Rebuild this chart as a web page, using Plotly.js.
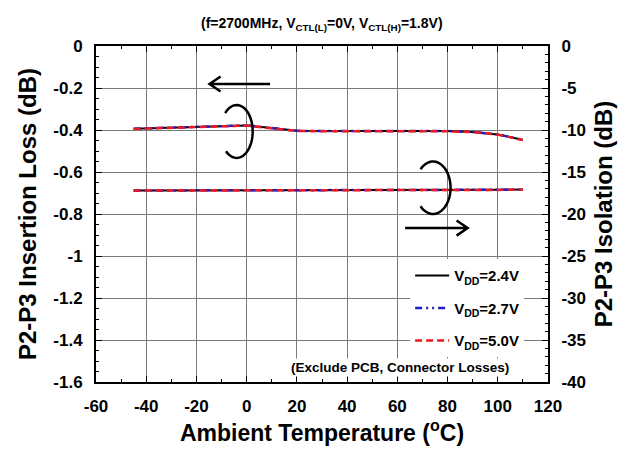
<!DOCTYPE html>
<html><head><meta charset="utf-8">
<script src="https://cdn.plot.ly/plotly-3.0.1.min.js"></script>
<style>html,body{margin:0;padding:0;background:#fff}</style>
</head><body><div id="chart" style="width:642px;height:452px"></div>
<script>
// ---- data ----
const temperature = [-45, -30, -20, -10, 0, 10, 20, 40, 60, 80, 90, 100, 110];
const insertionLoss_24 = [-0.394, -0.389, -0.384, -0.380, -0.378, -0.391, -0.404, -0.405, -0.405, -0.405, -0.409, -0.421, -0.447];
const insertionLoss_27 = [-0.394, -0.389, -0.384, -0.380, -0.378, -0.391, -0.404, -0.405, -0.405, -0.405, -0.409, -0.421, -0.447];
const insertionLoss_50 = [-0.395, -0.390, -0.384, -0.381, -0.379, -0.392, -0.405, -0.406, -0.406, -0.406, -0.410, -0.422, -0.448];
const isolation_24 = [-17.2, -17.2, -17.2, -17.2, -17.2, -17.2, -17.2, -17.2, -17.2, -17.19, -17.16, -17.12, -17.07];
const isolation_27 = [-17.2, -17.2, -17.2, -17.2, -17.2, -17.2, -17.2, -17.2, -17.2, -17.19, -17.16, -17.12, -17.07];
const isolation_50 = [-17.21, -17.21, -17.21, -17.21, -17.21, -17.21, -17.21, -17.21, -17.21, -17.2, -17.17, -17.13, -17.08];
const seriesNames = ['V<sub>DD</sub>=2.4V', 'V<sub>DD</sub>=2.7V', 'V<sub>DD</sub>=5.0V'];
const xTickVals = [-60, -40, -20, 0, 20, 40, 60, 80, 100, 120];
const xTickText = ['-60', '-40', '-20', '0', '20', '40', '60', '80', '100', '120'];
const ilTickVals = [0, -0.2, -0.4, -0.6, -0.8, -1, -1.2, -1.4, -1.6];
const ilTickText = ['0', '-0.2', '-0.4', '-0.6', '-0.8', '-1', '-1.2', '-1.4', '-1.6'];
const isoTickVals = [0, -5, -10, -15, -20, -25, -30, -35, -40];
const isoTickText = ['0', '-5', '-10', '-15', '-20', '-25', '-30', '-35', '-40'];

// ---- styles ----
const FONT = 'Liberation Sans, Arial, sans-serif';
const styles = [
  {color: '#000000', width: 2, dash: 'solid'},
  {color: 'rgb(30,30,200)', width: 2.5, dash: '7px,4px,2px,4px,2px,4px'},
  {color: 'rgb(235,25,35)', width: 2.5, dash: '7px,4px'}
];
const ilData = [insertionLoss_24, insertionLoss_27, insertionLoss_50];
const isoData = [isolation_24, isolation_27, isolation_50];

const traces = [];
for (let i = 0; i < 3; i++) {
  traces.push({x: temperature, y: ilData[i], type: 'scatter', mode: 'lines', name: seriesNames[i],
    line: styles[i], legendgroup: 'g' + i, xaxis: 'x', yaxis: 'y', hoverinfo: 'skip'});
}
for (let i = 0; i < 3; i++) {
  traces.push({x: temperature, y: isoData[i], type: 'scatter', mode: 'lines', name: seriesNames[i],
    line: styles[i], legendgroup: 'g' + i, showlegend: false, xaxis: 'x', yaxis: 'y2', hoverinfo: 'skip'});
}

// decorative curl (ellipse arc) and arrow shapes
function arcPath(cx, cy, rx, ry, a0, a1) {
  const n = 40; let p = '';
  for (let k = 0; k <= n; k++) {
    const a = (a0 + (a1 - a0) * k / n) * Math.PI / 180;
    const x = cx + rx * Math.cos(a), y = cy + ry * Math.sin(a);
    p += (k === 0 ? 'M' : 'L') + x.toFixed(4) + ',' + y.toFixed(5);
  }
  return p;
}
function arrowPath(xTail, xHead, y, headLen, headHalf) {
  const dir = xHead > xTail ? 1 : -1;
  const bx = xHead - dir * headLen;
  return 'M' + xTail + ',' + y + 'L' + xHead + ',' + y +
         'M' + bx + ',' + (y + headHalf) + 'L' + xHead + ',' + y + 'L' + bx + ',' + (y - headHalf);
}

const axisCommon = {
  showline: true, linecolor: '#000', linewidth: 2, ticks: 'inside', ticklen: 6, tickcolor: '#000', tickwidth: 1,
  zeroline: false, tickfont: {family: FONT, size: 17, color: '#000', weight: 'bold'}, tickmode: 'array'
};

const layout = {
  width: 642, height: 452,
  margin: {l: 96, r: 94, t: 46, b: 70},
  paper_bgcolor: '#fff', plot_bgcolor: '#fff',
  font: {family: FONT, color: '#000'},
  showlegend: true,
  legend: {x: 0.695, y: 0.365, xanchor: 'left', yanchor: 'top', bgcolor: '#fff', borderwidth: 0,
    font: {family: FONT, size: 15, color: '#000', weight: 'bold'}, tracegroupgap: 10, itemwidth: 34},
  xaxis: Object.assign({}, axisCommon, {
    range: [-60, 120], tickvals: xTickVals, ticktext: xTickText, mirror: 'ticks',
    showgrid: true, gridcolor: '#7a7a7a', gridwidth: 1, ticklabelstandoff: 8,
    minor: {dtick: 10, tick0: -60, ticks: 'inside', ticklen: 3, tickcolor: '#000', showgrid: false},
    title: {text: 'Ambient Temperature (<sup>o</sup>C)', font: {family: FONT, size: 23, color: '#000', weight: 'bold'}, standoff: 7}
  }),
  yaxis: Object.assign({}, axisCommon, {
    range: [-1.6, 0], tickvals: ilTickVals, ticktext: ilTickText, mirror: false,
    showgrid: true, gridcolor: '#7a7a7a', gridwidth: 1, ticklabelstandoff: 8,
    minor: {dtick: 0.05, tick0: 0, ticks: 'inside', ticklen: 3, tickcolor: '#000', showgrid: false},
    title: {text: 'P2-P3 Insertion Loss (dB)', font: {family: FONT, size: 24, color: '#000', weight: 'bold'}, standoff: 10}
  }),
  yaxis2: Object.assign({}, axisCommon, {
    range: [-40, 0], tickvals: isoTickVals, ticktext: isoTickText, overlaying: 'y', side: 'right',
    showgrid: false, ticklabelstandoff: 8,
    minor: {dtick: 1, tick0: 0, ticks: 'inside', ticklen: 3, tickcolor: '#000', showgrid: false},
    title: {text: 'P2-P3 Isolation (dB)', font: {family: FONT, size: 24, color: '#000', weight: 'bold'}, standoff: 10}
  }),
  annotations: [
    {xref: 'paper', yref: 'paper', x: 0.5, y: 1.064, xanchor: 'center', yanchor: 'middle', showarrow: false,
      text: '(f=2700MHz, V<sub>CTL(L)</sub>=0V, V<sub>CTL(H)</sub>=1.8V)', font: {family: FONT, size: 14, color: '#000', weight: 'bold'}},
    {xref: 'paper', yref: 'paper', x: 0.672, y: 0.042, xanchor: 'center', yanchor: 'middle', showarrow: false,
      bgcolor: '#fff', text: '(Exclude PCB, Connector Losses)', font: {family: FONT, size: 13.5, color: '#000', weight: 'bold'}}
  ],
  shapes: [
    {type: 'path', xref: 'x', yref: 'y', path: arcPath(-3.97, -0.407, 6.37, 0.126, 136, -132), line: {color: '#000', width: 2.5}, layer: 'above'},
    {type: 'path', xref: 'x', yref: 'y', path: arcPath(74.2, -0.675, 7.0, 0.125, 135, -135), line: {color: '#000', width: 2.5}, layer: 'above'},
    {type: 'path', xref: 'x', yref: 'y', path: arrowPath(9.3, -14.8, -0.181, 4.4, 0.036), line: {color: '#000', width: 2.5}, layer: 'above'},
    {type: 'path', xref: 'x', yref: 'y', path: arrowPath(63.1, 88, -0.867, 4.4, 0.036), line: {color: '#000', width: 2.5}, layer: 'above'}
  ]
};

Plotly.newPlot('chart', traces, layout, {displayModeBar: false, staticPlot: true});
</script>
</body></html>
